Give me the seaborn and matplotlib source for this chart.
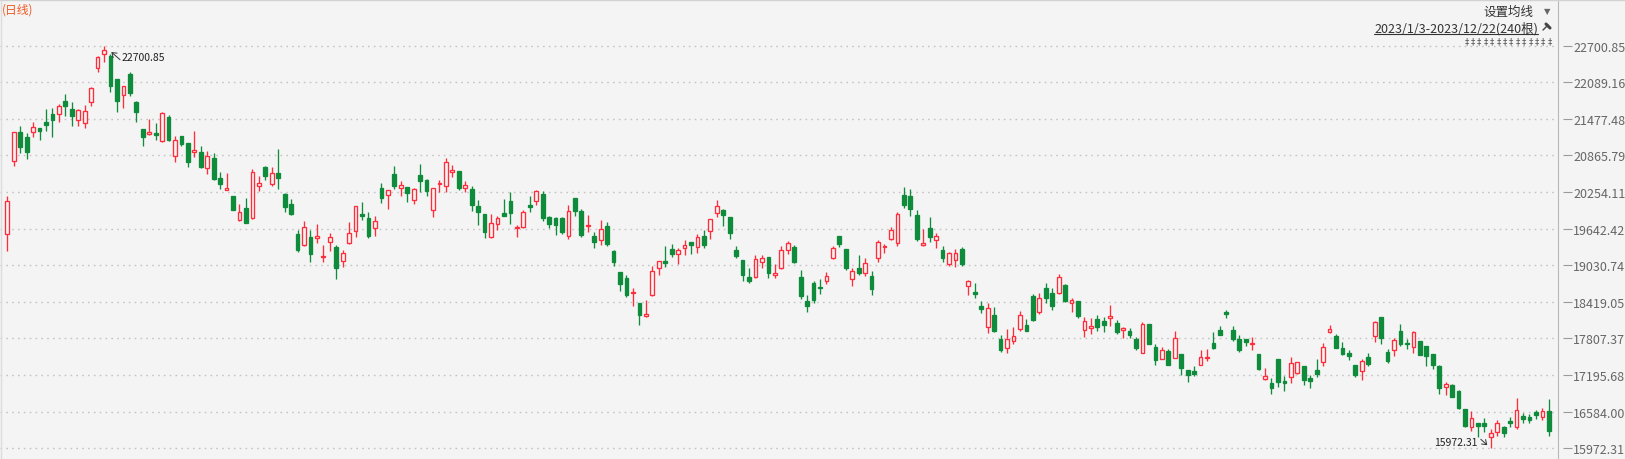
import numpy as np
import pandas as pd
import seaborn as sns
import matplotlib
matplotlib.use("Agg")
import matplotlib.pyplot as plt
from matplotlib.lines import Line2D

# 2023 daily candles (240)
opens = [
    19554, 20779, 21254, 21170, 21254, 21325, 21426, 21559, 21554, 21777,
    21643, 21454, 21404, 21755, 22323, 22562, 22524, 22144, 21877, 22228,
    21755, 21309, 21225, 21242, 21103, 21504, 20862, 21187, 21075, 20919,
    20919, 20652, 20819, 20489, 20294, 20189, 19793, 19988, 19816, 20361,
    20669, 20394, 20573, 20222, 20050, 19554, 19375, 19509, 19492, 19164,
    19415, 19337, 19098, 19398, 19599, 19883, 19821, 19659, 20318, 20201,
    20556, 20327, 20339, 20117, 20540, 20456, 19950, 20384, 20351, 20595,
    20607, 20327, 20306, 20022, 19888, 19499, 19716, 19905, 20105, 19649,
    19666, 20039, 20100, 20222, 19838, 19816, 19816, 19515, 20151, 19933,
    19683, 19515, 19449, 19683, 19270, 18914, 18818, 18563, 18401, 18178,
    18539, 18991, 19103, 19303, 19215, 19315, 19420, 19332, 19520, 19599,
    19900, 19955, 19838, 19286, 19119, 18835, 18830, 19081, 19164, 18864,
    18981, 19281, 19332, 18830, 18434, 18730, 18668, 18773, 19158, 19520,
    19298, 18807, 18986, 18907, 18847, 19148, 19332, 19475, 19398, 20206,
    20184, 19871, 19375, 19649, 19449, 19286, 19047, 19114, 19303, 18680,
    18584, 18356, 18005, 18200, 17794, 17644, 17761, 17971, 18033, 18518,
    18255, 18651, 18563, 18568, 18702, 18396, 18429, 17944, 17988, 18133,
    18100, 18145, 18061, 17944, 17933, 17799, 17570, 18045, 17660, 17470,
    17593, 17481, 17543, 17276, 17259, 17369, 17481, 17732, 17949, 18250,
    17949, 17799, 17799, 17710, 17548, 17126, 17059, 17465, 17097, 17159,
    17226, 17348, 17147, 17281, 17410, 17911, 17849, 17644, 17565, 17359,
    17259, 17498, 17844, 18167, 17582, 17620, 17933, 17732, 17665, 17766,
    17682, 17548, 17353, 16992, 17030, 16935, 16629, 16323, 16395, 16395,
    16166, 16250, 16333, 16428, 16328, 16512, 16495, 16579, 16495, 16596,
]
highs = [
    20194, 21260, 21359, 21242, 21421, 21332, 21643, 21660, 21726, 21894,
    21755, 21643, 21710, 22011, 22524, 22700.85, 22562, 22150, 22030, 22266,
    21782, 21315, 21476, 21404, 21587, 21543, 21187, 21192, 21080, 21275,
    21025, 20941, 20908, 20585, 20573, 20194, 20055, 20156, 20640, 20518,
    20695, 20674, 20974, 20244, 20139, 19621, 19771, 19621, 19721, 19370,
    19571, 19370, 19286, 19759, 20022, 20089, 19922, 19850, 20406, 20290,
    20690, 20434, 20345, 20318, 20724, 20473, 20323, 20456, 20824, 20712,
    20612, 20434, 20351, 20122, 19895, 19888, 19850, 20139, 20251, 19704,
    19955, 20189, 20284, 20273, 19860, 19833, 19833, 20034, 20156, 19972,
    19871, 19582, 19788, 19749, 19291, 18920, 18869, 18651, 18406, 18451,
    19024, 19103, 19353, 19387, 19315, 19454, 19425, 19549, 19621, 19805,
    20122, 19972, 19843, 19353, 19125, 18986, 19203, 19203, 19170, 19047,
    19348, 19442, 19365, 18952, 18534, 18763, 18802, 18914, 19358, 19525,
    19303, 18981, 19203, 19153, 18931, 19454, 19387, 19671, 19922, 20339,
    20306, 19960, 19637, 19838, 19566, 19348, 19248, 19303, 19337, 18785,
    18735, 18434, 18396, 18334, 17866, 17966, 17995, 18262, 18128, 18546,
    18563, 18735, 18651, 18885, 18718, 18484, 18434, 18162, 18145, 18200,
    18162, 18367, 18117, 17994, 17988, 17832, 18078, 18050, 17710, 17660,
    17632, 17933, 17548, 17281, 17348, 17615, 17632, 17921, 18021, 18284,
    18021, 17866, 17805, 17827, 17553, 17314, 17147, 17470, 17176, 17498,
    17415, 17353, 17202, 17465, 17727, 18033, 17883, 17749, 17610, 17365,
    17465, 17565, 18100, 18172, 17632, 17816, 18050, 17799, 17933, 17771,
    17687, 17553, 17358, 17080, 17047, 16940, 16635, 16601, 16400, 16479,
    16300, 16445, 16350, 16495, 16813, 16560, 16540, 16620, 16650, 16796,
]
lows = [
    19275, 20695, 20908, 20807, 21170, 21130, 21280, 21180, 21421, 21521,
    21364, 21364, 21330, 21698, 22266, 22424, 21933, 21587, 21655, 21865,
    21421, 21030, 21209, 21130, 21095, 21113, 20762, 21030, 20674, 20846,
    20657, 20560, 20461, 20306, 20284, 19950, 19776, 19738, 19810, 20273,
    20461, 20361, 20306, 19927, 19871, 19258, 19358, 19091, 19403, 19091,
    19275, 18807, 18997, 19392, 19499, 19793, 19482, 19525, 20072, 19972,
    20306, 20194, 20094, 20060, 20251, 20194, 19838, 20261, 20261, 20512,
    20289, 20261, 19943, 19709, 19492, 19492, 19626, 19850, 19721, 19509,
    19660, 19927, 20044, 19771, 19654, 19537, 19554, 19475, 19855, 19509,
    19592, 19325, 19370, 19348, 19024, 18601, 18506, 18356, 18038, 18170,
    18523, 18869, 19007, 19175, 19052, 19208, 19220, 19241, 19320, 19475,
    19843, 19688, 19475, 19148, 18768, 18740, 18825, 18991, 18813, 18823,
    18975, 19225, 19069, 18468, 18255, 18406, 18551, 18718, 19136, 19337,
    18957, 18690, 18869, 18857, 18539, 19086, 19231, 19454, 19358, 19983,
    19860, 19442, 19348, 19425, 19325, 19091, 19024, 19007, 19024, 18539,
    18489, 18239, 17894, 17921, 17587, 17570, 17720, 17933, 17932, 18100,
    18222, 18406, 18289, 18551, 18412, 18245, 18155, 17837, 17888, 17938,
    17921, 18021, 17888, 17816, 17816, 17620, 17565, 17715, 17364, 17465,
    17359, 17476, 17197, 17085, 17186, 17364, 17436, 17640, 17860, 18155,
    17771, 17587, 17677, 17620, 17281, 17120, 16880, 17002, 16925, 17069,
    17220, 17030, 16980, 17169, 17353, 17894, 17648, 17537, 17453, 17169,
    17119, 17353, 17749, 17720, 17398, 17515, 17687, 17637, 17565, 17531,
    17348, 17298, 16885, 16863, 16830, 16629, 16328, 16256, 16166, 16250,
    15972.31, 16183, 16156, 16328, 16295, 16400, 16390, 16470, 16450, 16180,
]
closes = [
    20110, 21254, 21013, 20929, 21337, 21280, 21381, 21464, 21688, 21698,
    21531, 21626, 21605, 21989, 22507, 22629, 22023, 21782, 22023, 21905,
    21598, 21170, 21254, 21214, 21571, 21130, 21120, 21063, 20762, 20953,
    20674, 20852, 20473, 20394, 20318, 19955, 19917, 19743, 20585, 20401,
    20528, 20568, 20495, 20010, 19888, 19291, 19666, 19220, 19515, 19186,
    19499, 18981, 19231, 19566, 20017, 19860, 19525, 19766, 20161, 20284,
    20361, 20372, 20244, 20301, 20439, 20278, 20318, 20406, 20752, 20619,
    20327, 20367, 20044, 19927, 19592, 19733, 19816, 19860, 19910, 19671,
    19917, 20010, 20268, 19826, 19726, 19709, 19592, 19943, 19943, 19542,
    19704, 19425, 19642, 19392, 19091, 18723, 18539, 18579, 18205, 18212,
    18931, 19098, 19074, 19225, 19281, 19365, 19375, 19499, 19375, 19800,
    20022, 19876, 19576, 19191, 18874, 18773, 19131, 19148, 18907, 18897,
    19281, 19398, 19091, 18523, 18356, 18456, 18646, 18847, 19325, 19392,
    18991, 18931, 18907, 19064, 18640, 19415, 19353, 19616, 19883, 20044,
    19977, 19475, 19403, 19509, 19515, 19158, 19231, 19231, 19057, 18763,
    18556, 18305, 18312, 17933, 17620, 17794, 17844, 18195, 17938, 18117,
    18479, 18479, 18356, 18830, 18439, 18446, 18188, 18095, 18011, 18005,
    18038, 18178, 17921, 17988, 17866, 17654, 18045, 17720, 17453, 17615,
    17364, 17811, 17314, 17202, 17214, 17493, 17503, 17649, 17866, 18222,
    17799, 17620, 17754, 17732, 17298, 17176, 16985, 17085, 17059, 17393,
    17410, 17119, 17102, 17219, 17660, 17961, 17654, 17553, 17520, 17202,
    17431, 17381, 18083, 17816, 17436, 17777, 17720, 17710, 17916, 17537,
    17520, 17364, 16985, 17042, 16835, 16646, 16350, 16474, 16350, 16350,
    16228, 16395, 16233, 16395, 16612, 16462, 16445, 16529, 16596, 16262,
]

tick_labels = ["22700.85", "22089.16", "21477.48", "20865.79", "20254.11", "19642.42",
               "19030.74", "18419.05", "17807.37", "17195.68", "16584.00", "15972.31"]
period_text = "(日线)"
ma_text = "设置均线"
range_text = "2023/1/3-2023/12/22(240根)"

RED = "#ff2d3c"
GREEN = "#0f8c3b"
BG = "#f4f4f4"
W, H = 1625, 460
PLOT_R = 1558  # right edge of price area, px

df = pd.DataFrame({"open": opens, "high": highs, "low": lows, "close": closes})
df["idx"] = np.arange(len(df))
df["up"] = df["close"] >= df["open"]
df["top"] = df[["open", "close"]].max(axis=1)
df["bot"] = df[["open", "close"]].min(axis=1)
df["color"] = np.where(df["up"], RED, GREEN)

sns.set_theme(style="white", rc={"figure.facecolor": BG, "axes.facecolor": BG})
plt.rcParams["font.family"] = ["Noto Sans CJK SC", "DejaVu Sans"]

fig = plt.figure(figsize=(W / 100, H / 100), dpi=100)
ax = fig.add_axes([0, 0, PLOT_R / W, 1])

levels = [float(t) for t in tick_labels]
for lv in levels:
    ax.axhline(lv, color="#c4c4c4", lw=1, ls=(0, (1.2, 3)), zorder=1)

# wicks (red candles are hollow, so the wick stops at the body)
ax.vlines(df["idx"], df["top"], df["high"], colors=df["color"], lw=0.95, zorder=2)
ax.vlines(df["idx"], df["low"], df["bot"], colors=df["color"], lw=0.95, zorder=2)

heights = np.maximum(df["top"] - df["bot"], 10)
ax.bar(df["idx"], heights, bottom=df["bot"], width=0.58,
       color=np.where(df["up"], BG, GREEN), edgecolor=df["color"],
       linewidth=0.95, zorder=3)

ax.set_xlim(-1.13, 240.42)
ax.set_ylim(15793.4, 23481.35)
ax.set_xticks([])
ax.yaxis.tick_right()
ax.set_yticks(levels)
ax.set_yticklabels(tick_labels)
ax.tick_params(axis="y", length=0, pad=11, labelsize=9, labelcolor="#666666")
for s in ["top", "left", "bottom"]:
    ax.spines[s].set_visible(False)
ax.spines["right"].set_color("#b8b8b8")
ax.spines["right"].set_linewidth(0.8)
ax.hlines(levels, 1 + 5 / PLOT_R, 1 + 14 / PLOT_R, transform=ax.get_yaxis_transform(),
          colors="#9a9a9a", lw=0.8, clip_on=False)

# max / min markers
hi_i = int(np.argmax(highs))
lo_i = int(np.argmin(lows))
arrow = dict(arrowstyle="->,head_length=0.25,head_width=0.18", color="#333333", lw=0.7,
             shrinkA=0)
ax.annotate("", xy=(hi_i, highs[hi_i]), xytext=(16, -14), textcoords="offset pixels",
            arrowprops=dict(arrow, shrinkB=7))
ax.annotate(f"{highs[hi_i]:.2f}", xy=(hi_i, highs[hi_i]), xytext=(18, -11),
            textcoords="offset pixels", ha="left", va="center", fontsize=7.5, color="#222222")
ax.annotate("", xy=(lo_i, lows[lo_i]), xytext=(-10, 9), textcoords="offset pixels",
            arrowprops=dict(arrow, shrinkB=3.4))
ax.annotate(f"{lows[lo_i]:.2f}", xy=(lo_i, lows[lo_i]), xytext=(-13, 6),
            textcoords="offset pixels", ha="right", va="center", fontsize=7.5, color="#222222")


def fx(x):
    return x / W


def fy(y):
    return 1 - y / H


fig.add_artist(Line2D([0, 1], [fy(0.5), fy(0.5)], color="#d2d2d2", lw=1))
fig.add_artist(Line2D([fx(0.5), fx(0.5)], [0, 1], color="#dcdcdc", lw=1))

fig.text(fx(2), fy(10), period_text, ha="left", va="center", fontsize=8.5, color="#f25a24")
fig.text(fx(1533), fy(12.5), ma_text, ha="right", va="center", fontsize=9, color="#333333")
fig.text(fx(1547), fy(12), "▼", ha="center", va="center", fontsize=6, color="#666666",
         family=["DejaVu Sans"])
rt = fig.text(fx(1538), fy(29), range_text, ha="right", va="center", fontsize=9, color="#333333")
fig.canvas.draw()
bb = rt.get_window_extent()
fig.add_artist(Line2D([bb.x0 / W, bb.x1 / W], [fy(35), fy(35)], color="#333333", lw=0.8))

# pin icon
fig.add_artist(Line2D([fx(1543), fx(1548)], [fy(31), fy(26)], color="#444444", lw=1))
fig.add_artist(Line2D([fx(1546), fx(1550)], [fy(25), fy(29)], color="#444444", lw=2.2))

for k in range(14):
    fig.text(fx(1466.5 + k * 6.4), fy(42), "‡", ha="center", va="center", fontsize=6,
             color="#555555", family=["DejaVu Sans"])

fig.savefig("out.png", dpi=100, facecolor=BG)
